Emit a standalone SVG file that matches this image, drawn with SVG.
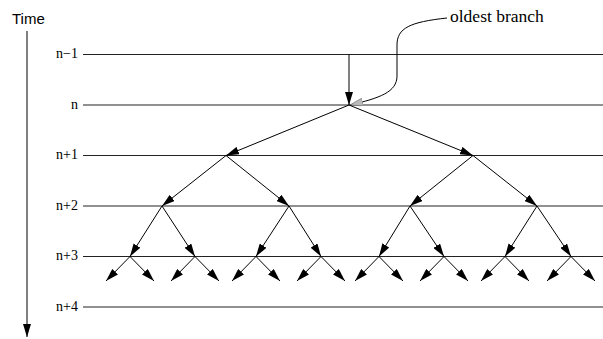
<svg xmlns="http://www.w3.org/2000/svg" width="603" height="339" viewBox="0 0 603 339">
<defs>
<marker id="ah" viewBox="0 0 13 8" refX="13" refY="4" markerWidth="13" markerHeight="8" markerUnits="userSpaceOnUse" orient="auto">
<path d="M0,0 L13,4 L0,8 Z" fill="#000"/>
</marker>
<marker id="ahg" viewBox="0 0 13 8" refX="13" refY="4" markerWidth="13" markerHeight="8" markerUnits="userSpaceOnUse" orient="auto">
<path d="M0,0 L13,4 L0,8 Z" fill="#bbb" stroke="#666" stroke-width="0.6"/>
</marker>
</defs>
<style>
.lab{font-family:"Liberation Serif","Times New Roman",serif;font-size:14px;fill:#000}
.hl{stroke:#222;stroke-width:1.2}
.e{stroke:#000;stroke-width:1;fill:none;marker-end:url(#ah)}
</style>
<rect width="603" height="339" fill="#fff"/>
<g id="time">
<text x="12" y="24" font-family="Liberation Sans, Arial, sans-serif" font-size="15">Time</text>
<line x1="27" y1="31" x2="27" y2="337" stroke="#000" stroke-width="1" marker-end="url(#ah)"/>
</g>
<g id="levels">
<text class="lab" x="78" y="58" text-anchor="end">n−1</text>
<text class="lab" x="78" y="109" text-anchor="end">n</text>
<text class="lab" x="78" y="159" text-anchor="end">n+1</text>
<text class="lab" x="78" y="210" text-anchor="end">n+2</text>
<text class="lab" x="78" y="260" text-anchor="end">n+3</text>
<text class="lab" x="78" y="311" text-anchor="end">n+4</text>
<line class="hl" x1="83" y1="54.5" x2="603" y2="54.5"/>
<line class="hl" x1="83" y1="105" x2="603" y2="105"/>
<line class="hl" x1="83" y1="155.5" x2="603" y2="155.5"/>
<line class="hl" x1="83" y1="206" x2="603" y2="206"/>
<line class="hl" x1="83" y1="256.5" x2="603" y2="256.5"/>
<line class="hl" x1="83" y1="307" x2="603" y2="307"/>
</g>
<g id="label">
<text x="450" y="22" font-family="Liberation Serif, Times New Roman, serif" font-size="17.5">oldest branch</text>
</g>
<g id="connectors">
<path d="M447,18 C410,22 397,28 397,45 L397,76 C397,92 380,98 350,105" fill="none" stroke="#000" stroke-width="1" marker-end="url(#ahg)"/>
<line class="e" x1="349" y1="54.5" x2="349" y2="105"/>
<line class="e" x1="349" y1="105" x2="226" y2="155.5"/>
<line class="e" x1="349" y1="105" x2="473" y2="155.5"/>
<line class="e" x1="226" y1="155.5" x2="162" y2="206"/>
<line class="e" x1="226" y1="155.5" x2="289" y2="206"/>
<line class="e" x1="473" y1="155.5" x2="410" y2="206"/>
<line class="e" x1="473" y1="155.5" x2="537" y2="206"/>
<line class="e" x1="162" y1="206" x2="130" y2="256.5"/>
<line class="e" x1="162" y1="206" x2="195" y2="256.5"/>
<line class="e" x1="289" y1="206" x2="256" y2="256.5"/>
<line class="e" x1="289" y1="206" x2="321" y2="256.5"/>
<line class="e" x1="410" y1="206" x2="379" y2="256.5"/>
<line class="e" x1="410" y1="206" x2="444" y2="256.5"/>
<line class="e" x1="537" y1="206" x2="505" y2="256.5"/>
<line class="e" x1="537" y1="206" x2="571" y2="256.5"/>
<line class="e" x1="130" y1="256.5" x2="106" y2="281"/>
<line class="e" x1="130" y1="256.5" x2="154" y2="281"/>
<line class="e" x1="195" y1="256.5" x2="171" y2="281"/>
<line class="e" x1="195" y1="256.5" x2="219" y2="281"/>
<line class="e" x1="256" y1="256.5" x2="232" y2="281"/>
<line class="e" x1="256" y1="256.5" x2="280" y2="281"/>
<line class="e" x1="321" y1="256.5" x2="297" y2="281"/>
<line class="e" x1="321" y1="256.5" x2="345" y2="281"/>
<line class="e" x1="379" y1="256.5" x2="355" y2="281"/>
<line class="e" x1="379" y1="256.5" x2="403" y2="281"/>
<line class="e" x1="444" y1="256.5" x2="420" y2="281"/>
<line class="e" x1="444" y1="256.5" x2="468" y2="281"/>
<line class="e" x1="505" y1="256.5" x2="481" y2="281"/>
<line class="e" x1="505" y1="256.5" x2="529" y2="281"/>
<line class="e" x1="571" y1="256.5" x2="547" y2="281"/>
<line class="e" x1="571" y1="256.5" x2="595" y2="281"/>
</g>
</svg>
